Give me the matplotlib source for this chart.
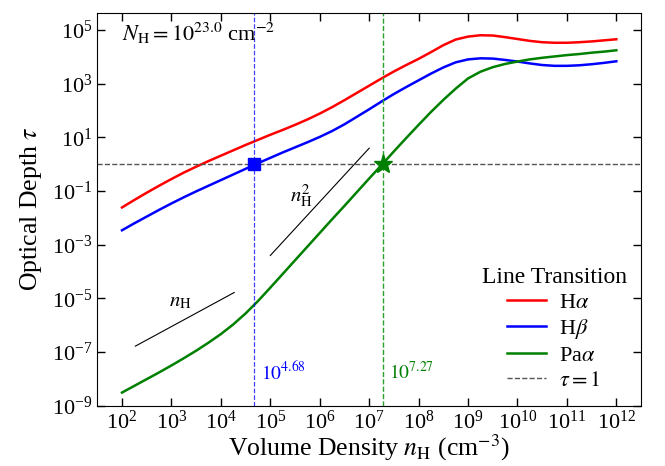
import numpy as np
import matplotlib
matplotlib.use('Agg')
import matplotlib.pyplot as plt

plt.rcParams['font.family'] = ['Liberation Serif', 'DejaVu Serif']
plt.rcParams['mathtext.fontset'] = 'stix'

# log10 of volume density (cm^-3), quarter-decade steps
log_n = [2.0, 2.25, 2.5, 2.75, 3.0, 3.25, 3.5, 3.75, 4.0, 4.25, 4.5, 4.75,
         5.0, 5.25, 5.5, 5.75, 6.0, 6.25, 6.5, 6.75, 7.0, 7.25, 7.5, 7.75,
         8.0, 8.25, 8.5, 8.75, 9.0, 9.25, 9.5, 9.75, 10.0, 10.25, 10.5, 10.75,
         11.0, 11.25, 11.5, 11.75, 12.0]

# log10 optical depth for each line
log_tau_ha = [-1.61, -1.33, -1.06, -0.80, -0.55, -0.31, -0.09, 0.12, 0.32, 0.52, 0.72, 0.91,
              1.10, 1.28, 1.47, 1.67, 1.89, 2.13, 2.39, 2.66, 2.93, 3.20, 3.46, 3.70,
              3.93, 4.18, 4.44, 4.65, 4.76, 4.81, 4.80, 4.74, 4.67, 4.60, 4.55, 4.53,
              4.53, 4.55, 4.58, 4.62, 4.66]
log_tau_hb = [-2.46, -2.20, -1.95, -1.70, -1.46, -1.23, -1.01, -0.80, -0.59, -0.38, -0.17, 0.04,
              0.24, 0.44, 0.63, 0.82, 1.02, 1.24, 1.49, 1.77, 2.05, 2.34, 2.62, 2.88,
              3.13, 3.38, 3.61, 3.80, 3.91, 3.95, 3.94, 3.89, 3.83, 3.76, 3.70, 3.67,
              3.67, 3.69, 3.73, 3.78, 3.84]
log_tau_paa = [-8.51, -8.26, -8.01, -7.76, -7.50, -7.23, -6.95, -6.65, -6.33, -5.97, -5.56, -5.10,
               -4.60, -4.09, -3.58, -3.07, -2.56, -2.05, -1.55, -1.04, -0.53, -0.03, 0.48, 0.98,
               1.47, 1.95, 2.40, 2.82, 3.20, 3.45, 3.62, 3.74, 3.83, 3.91, 3.97, 4.02,
               4.07, 4.11, 4.16, 4.20, 4.25]

# densities where tau = 1
log_n_thick_hb = 4.68
log_n_thick_paa = 7.27

log_col = 23.0

fig = plt.figure(figsize=(6.65, 4.66), dpi=100)
ax = fig.add_axes([0.1463, 0.1294, 0.8177, 0.8433])

n = 10**np.array(log_n)
ax.plot(n, 10**np.array(log_tau_ha), color='red', lw=1.8, label=r'H$\alpha$')
ax.plot(n, 10**np.array(log_tau_hb), color='blue', lw=1.8, label=r'H$\beta$')
ax.plot(n, 10**np.array(log_tau_paa), color='green', lw=1.8, label=r'Pa$\alpha$')
ax.axhline(1, color='#555555', ls='--', lw=1.0, label=r'$\tau=1$')

# tau = 1 crossings
ax.axvline(10**log_n_thick_hb, color='blue', ls='--', lw=0.9, alpha=0.75)
ax.axvline(10**log_n_thick_paa, color='#2ca02c', ls='--', lw=1.0)
ax.plot(10**log_n_thick_hb, 1, 's', color='blue', ms=8.5, zorder=5)
ax.plot(10**log_n_thick_paa, 1, '*', color='green', ms=14, zorder=5)
ax.text(10**(log_n_thick_hb + 0.13), 10**-7.74, r'$10^{%.2f}$' % log_n_thick_hb,
        color='blue', fontsize=14, va='center', ha='left')
ax.text(10**(log_n_thick_paa + 0.13), 10**-7.74, r'$10^{%.2f}$' % log_n_thick_paa,
        color='green', fontsize=14, va='center', ha='left')

# slope guides
ax.plot([10**2.27, 10**4.27], [10**-6.78, 10**-4.78], color='black', lw=0.8)
ax.text(10**3.19, 10**-5.12, r'$n_{\rm H}$', fontsize=15, ha='center', va='center')
ax.plot([10**5.0, 10**7.0], [10**-3.4, 10**0.6], color='black', lw=0.8)
ax.text(10**5.62, 10**-1.15, r'$n_{\rm H}^2$', fontsize=15, ha='center', va='center')

ax.text(0.045, 0.948, r'$N_{\rm H} = 10^{%.1f}$ cm$^{-2}$' % log_col,
        transform=ax.transAxes, fontsize=16, ha='left', va='center')

ax.set_xscale('log')
ax.set_yscale('log')
ax.set_xlim(10**1.5, 10**12.5)
ax.set_ylim(1e-9, 10**5.65)
ax.set_xticks([10.0**k for k in range(2, 13)])
ax.set_yticks([10.0**k for k in range(-9, 6, 2)])
ax.minorticks_off()
ax.tick_params(direction='in', top=True, right=True, length=6, width=1, labelsize=16)

ax.set_xlabel(r'Volume Density $n_{\rm H}$ (cm$^{-3}$)', fontsize=18.5, labelpad=-1)
ax.set_ylabel(r'Optical Depth $\tau$', fontsize=18.5, labelpad=6)

leg = ax.legend(loc='lower right', frameon=False, fontsize=16,
                title='Line Transition', title_fontsize=17,
                labelspacing=0.2, handlelength=1.75, handletextpad=0.6,
                borderaxespad=0.25)

fig.savefig('out.png', dpi=100)
